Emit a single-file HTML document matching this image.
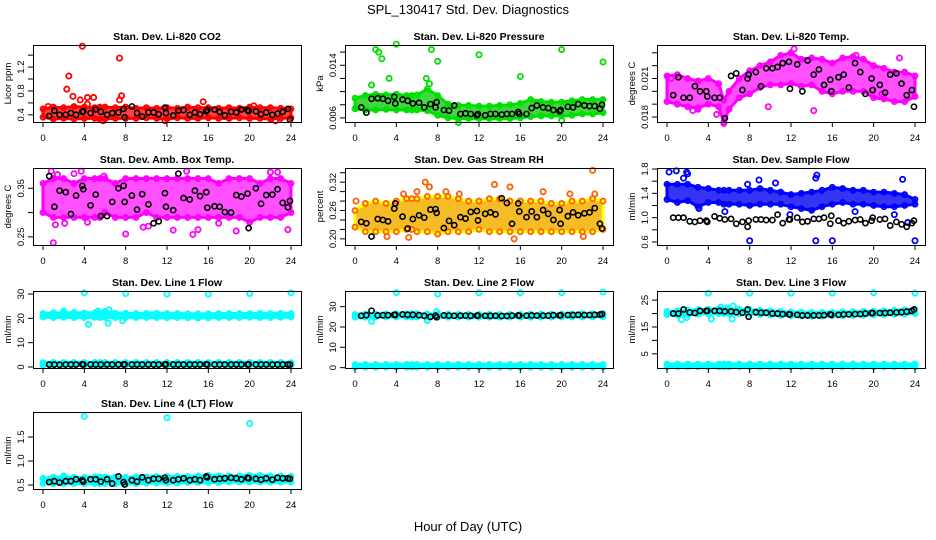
<!DOCTYPE html>
<html><head><meta charset="utf-8"><title>SPL_130417 Std. Dev. Diagnostics</title>
<style>
html,body{margin:0;padding:0;background:#fff;}
svg{display:block;font-family:"Liberation Sans",Arial,sans-serif;}
</style></head>
<body>
<svg id="chart" width="936" height="540" viewBox="0 0 936 540" xmlns="http://www.w3.org/2000/svg">
<text x="468" y="14" font-size="13" text-anchor="middle">SPL_130417  Std. Dev. Diagnostics</text>
<text x="468" y="531" font-size="13" text-anchor="middle">Hour of Day (UTC)</text>
</svg>
<script>
// ---------- shared data ----------
const xTicks = [0,4,8,12,16,20,24];
const bandHours = [0,1,2,3,4,5,5.5,6,7,8,9,10,11,12,13,14,15,16,17,18,19,20,21,22,23,24];
const blackHours = [0.6,1.1,1.6,2.2,2.7,3.2,3.8,3.9,4.6,5.1,5.6,6.2,6.7,7.3,7.8,7.9,8.6,9.1,9.6,10.2,10.7,11.2,11.8,11.9,12.6,13.1,13.6,14.2,14.7,15.2,15.8,15.9,16.6,17.1,17.6,18.2,18.7,19.2,19.8,19.9,20.6,21.1,21.6,22.2,22.7,23.2,23.7,23.9];

// Panel 1: CO2
const co2Lo = [0.36,0.33,0.34,0.33,0.34,0.34,0.33,0.33,0.34,0.34,0.34,0.35,0.34,0.33,0.35,0.34,0.34,0.35,0.34,0.34,0.35,0.34,0.34,0.33,0.34,0.35];
const co2Hi = [0.50,0.53,0.52,0.54,0.53,0.52,0.53,0.53,0.52,0.53,0.51,0.52,0.51,0.52,0.51,0.53,0.52,0.52,0.51,0.52,0.51,0.53,0.52,0.52,0.51,0.50];
const co2OutX = [0.5,2.3,2.5,2.9,3.6,3.8,4.3,4.3,4.9,7.4,7.4,7.6,15.5,5.8,11.8,22.5,20.4];
const co2OutY = [0.54,0.83,1.05,0.71,0.65,1.55,0.69,0.58,0.69,1.35,0.65,0.72,0.62,0.30,0.30,0.30,0.55];
const co2Black = [0.38,0.47,0.40,0.40,0.43,0.40,0.45,0.46,0.43,0.49,0.45,0.40,0.43,0.44,0.50,0.36,0.54,0.43,0.37,0.44,0.44,0.41,0.52,0.43,0.39,0.47,0.48,0.40,0.44,0.41,0.46,0.48,0.49,0.45,0.39,0.45,0.44,0.49,0.48,0.46,0.46,0.41,0.44,0.40,0.42,0.45,0.50,0.32];

// Panel 2: Pressure
const presLo = [0.0074,0.0072,0.0072,0.0073,0.0072,0.0072,0.0072,0.0072,0.0071,0.0064,0.0060,0.0059,0.0059,0.0059,0.0059,0.0059,0.0059,0.0060,0.0062,0.0063,0.0063,0.0063,0.0064,0.0066,0.0066,0.0068];
const presHi = [0.0090,0.0094,0.0096,0.0095,0.0096,0.0094,0.0094,0.0095,0.0104,0.0094,0.0081,0.0079,0.0079,0.0078,0.0078,0.0079,0.0080,0.0082,0.0088,0.0085,0.0084,0.0084,0.0086,0.0088,0.0088,0.0088];
const presOutX = [2,2.3,2.6,4,7.4,8,12,16,20,24,3.3,6.9,10,20,1.6,7.2];
const presOutY = [0.0164,0.0160,0.0150,0.0172,0.0164,0.0146,0.0156,0.0123,0.0164,0.0145,0.0120,0.0120,0.0053,0.0056,0.0110,0.0112];
const presBlack = [0.0076,0.0068,0.0089,0.0090,0.0089,0.0086,0.0092,0.0082,0.0088,0.0086,0.0082,0.0083,0.0076,0.0081,0.0076,0.0084,0.0072,0.0071,0.0079,0.0066,0.0067,0.0066,0.0064,0.0066,0.0064,0.0066,0.0066,0.0065,0.0066,0.0066,0.0069,0.0066,0.0066,0.0075,0.0079,0.0076,0.0075,0.0072,0.0070,0.0072,0.0077,0.0076,0.0081,0.0079,0.0078,0.0078,0.0074,0.0080];

// Panel 3: Li-820 Temp
const tempLo = [0.0192,0.0190,0.0188,0.0187,0.0190,0.0188,0.0176,0.0186,0.0195,0.0198,0.0203,0.0205,0.0205,0.0206,0.0204,0.0205,0.0200,0.0198,0.0200,0.0200,0.0200,0.0195,0.0194,0.0192,0.0192,0.0196];
const tempHi = [0.0212,0.0213,0.0210,0.0208,0.0210,0.0206,0.0193,0.0200,0.0210,0.0216,0.0220,0.0223,0.0228,0.0230,0.0225,0.0226,0.0225,0.0222,0.0226,0.0227,0.0225,0.0220,0.0218,0.0215,0.0215,0.0212];
const tempOutX = [12.3,13.6,3.0,4.8,9.8,14.2,20.8,5.5,0.4,2.5,22.5,18.3];
const tempOutY = [0.0233,0.0224,0.0186,0.0182,0.0188,0.0185,0.0198,0.0175,0.0210,0.0185,0.0226,0.0228];
const tempBlack = [0.0197,0.0211,0.0195,0.0195,0.0204,0.0200,0.0200,0.0196,0.0195,0.0195,0.0179,0.0212,0.0214,0.0201,0.0210,0.0213,0.0215,0.0204,0.0218,0.0218,0.0219,0.0222,0.0223,0.0202,0.0221,0.0200,0.0224,0.0213,0.0217,0.0205,0.0209,0.0200,0.0211,0.0213,0.0203,0.0222,0.0215,0.0198,0.0210,0.0201,0.0205,0.0199,0.0213,0.0214,0.0206,0.0197,0.0201,0.0188];

// Panel 4: Amb. Box Temp
const ambLo = [0.30,0.29,0.29,0.29,0.29,0.29,0.29,0.30,0.29,0.29,0.29,0.30,0.29,0.29,0.29,0.29,0.29,0.29,0.29,0.29,0.29,0.28,0.29,0.29,0.29,0.30];
const ambHi = [0.36,0.37,0.37,0.36,0.37,0.37,0.37,0.37,0.36,0.37,0.37,0.37,0.37,0.37,0.37,0.37,0.37,0.37,0.36,0.37,0.37,0.37,0.36,0.37,0.37,0.36];
const ambOutX = [0.8,1.4,1.2,2.1,3.0,3.7,4.3,8.0,9.7,12.6,14.5,15.0,1.0,18.7,22.0,22.7,23.7,5.9,10.2,13.9,17.0];
const ambOutY = [0.385,0.378,0.275,0.278,0.380,0.385,0.280,0.256,0.270,0.264,0.255,0.265,0.238,0.262,0.383,0.383,0.265,0.375,0.272,0.385,0.278];
const ambBlack = [0.375,0.312,0.345,0.342,0.297,0.335,0.355,0.348,0.315,0.337,0.293,0.293,0.322,0.350,0.355,0.322,0.335,0.306,0.338,0.317,0.278,0.282,0.340,0.312,0.305,0.380,0.330,0.327,0.345,0.334,0.342,0.310,0.313,0.312,0.301,0.300,0.336,0.333,0.339,0.268,0.350,0.318,0.336,0.337,0.348,0.320,0.311,0.324];

// Panel 5: Gas Stream RH
const rhLo = [0.225,0.215,0.215,0.215,0.215,0.22,0.22,0.215,0.215,0.21,0.215,0.215,0.215,0.22,0.215,0.215,0.215,0.215,0.215,0.215,0.215,0.215,0.215,0.215,0.215,0.22];
const rhHi = [0.26,0.275,0.28,0.275,0.28,0.285,0.285,0.285,0.29,0.29,0.29,0.285,0.28,0.28,0.285,0.285,0.28,0.28,0.28,0.28,0.275,0.275,0.28,0.28,0.285,0.28];
const rhOutX = [0.1,4.7,6.0,6.8,7.2,13.5,15.0,18.2,20.8,23.0,23.2,15.4,3.1,5.2,22.1,8.8,10.1];
const rhOutY = [0.28,0.295,0.30,0.32,0.31,0.315,0.31,0.30,0.295,0.345,0.295,0.20,0.205,0.203,0.205,0.30,0.295];
const rhBlack = [0.236,0.233,0.205,0.242,0.240,0.237,0.264,0.275,0.247,0.222,0.242,0.250,0.245,0.262,0.263,0.255,0.223,0.238,0.229,0.246,0.243,0.257,0.259,0.239,0.253,0.256,0.252,0.286,0.276,0.232,0.275,0.258,0.246,0.258,0.246,0.261,0.253,0.240,0.261,0.232,0.248,0.256,0.250,0.254,0.256,0.265,0.232,0.222];

// Panel 6: Sample Flow
const sfLo = [1.30,1.25,1.28,1.18,1.25,1.25,1.22,1.22,1.22,1.20,1.22,1.22,1.22,1.18,1.15,1.12,1.18,1.22,1.25,1.22,1.22,1.20,1.18,1.18,1.20,1.22];
const sfHi = [1.55,1.55,1.55,1.50,1.48,1.45,1.45,1.45,1.45,1.45,1.48,1.45,1.42,1.38,1.40,1.42,1.45,1.50,1.48,1.45,1.45,1.42,1.42,1.40,1.38,1.30];
const sfOutX = [0.2,0.9,1.9,2.0,1.6,8.0,14.4,16.0,24.0,14.4,14.5,8.9,22.8,3.1,5.6,11.9,18.2,22.0,23.3,10.5,7.8];
const sfOutY = [1.75,1.77,1.75,1.72,1.65,0.62,0.62,0.62,0.62,1.65,1.70,1.62,1.63,1.15,1.10,1.05,1.10,1.05,0.92,1.57,1.55];
const sfBlack = [1.00,1.00,1.00,0.94,0.93,0.95,0.95,0.93,1.02,0.99,0.97,0.98,0.90,0.93,0.85,0.95,0.97,0.97,0.96,0.96,1.05,0.91,0.97,0.97,1.00,0.93,0.94,0.98,0.98,1.00,0.90,1.03,0.95,0.91,0.94,0.96,0.97,0.91,0.95,1.00,0.97,0.98,0.87,0.93,0.89,0.85,0.91,0.95];

// Panel 7: Line 1 Flow
const l1Lo = [20.5,20.3,20.4,20.3,20.3,20.4,20.3,20.4,20.3,20.4,20.3,20.3,20.3,20.2,20.3,20.2,20.1,20.2,20.3,20.3,20.3,20.4,20.3,20.3,20.4,20.5];
const l1Hi = [22.0,22.3,22.2,22.4,22.2,22.3,22.4,22.5,22.2,22.1,22.0,22.1,22.1,22.0,22.0,21.9,21.9,21.9,22.0,22.0,22.0,22.0,22.1,22.0,22.1,22.0];
const l1Lo2 = [0.7,0.6,0.6,0.6,0.6,0.6,0.6,0.6,0.6,0.6,0.6,0.6,0.6,0.6,0.6,0.6,0.6,0.6,0.6,0.6,0.6,0.6,0.6,0.6,0.6,0.7];
const l1Hi2 = [1.8,1.9,1.9,1.9,1.9,1.9,1.9,1.9,1.9,1.9,1.9,1.9,1.9,1.9,1.9,1.9,1.9,1.9,1.9,1.9,1.9,1.9,1.9,1.9,1.9,1.8];
const l1OutX = [4,8,12,16,20,24,2,4.4,5.3,6,6.4,6.3,7.7];
const l1OutY = [30.5,30.2,30.0,30.0,30.2,30.5,23.0,17.5,23.0,22.8,23.5,18.0,19.0];
const l1Black = [1.0,1.0,0.9,1.0,1.0,1.0,1.1,1.0,1.0,1.0,1.0,1.0,1.0,1.0,1.0,1.1,1.0,1.0,1.0,1.0,1.0,1.0,1.0,1.1,1.0,1.0,1.0,1.0,1.0,1.0,1.1,1.0,1.0,1.0,1.0,1.0,1.0,1.0,1.0,1.1,1.0,1.0,1.0,1.0,1.0,1.0,1.0,1.0];

// Panel 8: Line 2 Flow
const l2Lo = [24.8,24.8,24.9,24.9,24.9,24.9,24.9,24.9,24.9,24.8,24.8,24.8,24.8,24.8,24.8,24.8,24.8,24.8,24.8,24.8,24.8,24.9,24.9,24.9,25.0,25.0];
const l2Hi = [26.2,26.3,26.4,26.4,26.5,26.5,26.5,26.5,26.4,26.3,26.3,26.2,26.2,26.2,26.2,26.2,26.2,26.2,26.3,26.3,26.3,26.4,26.4,26.5,26.5,26.6];
const l2Lo2 = [0.3,0.3,0.3,0.3,0.3,0.3,0.3,0.3,0.3,0.3,0.3,0.3,0.3,0.3,0.3,0.3,0.3,0.3,0.3,0.3,0.3,0.3,0.3,0.3,0.3,0.3];
const l2Hi2 = [1.6,1.6,1.6,1.6,1.6,1.6,1.6,1.6,1.6,1.6,1.6,1.6,1.6,1.6,1.6,1.6,1.6,1.6,1.6,1.6,1.6,1.6,1.6,1.6,1.6,1.6];
const l2OutX = [4,8,12,16,20,24,1.6,7.0,7.9];
const l2OutY = [36.9,36.2,36.9,36.9,36.9,37.2,22.8,23.2,27.5];
const l2Black = [25.5,25.8,28.0,25.7,25.8,25.8,26.0,26.0,26.2,26.0,26.0,25.8,25.5,25.0,25.6,24.8,25.7,25.6,25.5,25.6,25.6,25.5,25.6,25.6,25.5,25.5,25.5,25.4,25.4,25.6,25.7,25.6,25.6,25.7,25.6,25.6,25.6,25.8,25.7,25.8,25.9,25.9,26.0,25.9,25.9,26.0,26.1,26.3];

// Panel 9: Line 3 Flow
const l3Lo = [19.6,19.5,19.6,19.8,19.9,20.0,20.0,20.0,20.0,19.8,19.6,19.5,19.3,19.2,19.1,19.0,19.0,19.1,19.2,19.3,19.4,19.5,19.6,19.7,19.8,20.0];
const l3Hi = [20.8,21.0,21.3,21.4,21.6,21.7,21.7,21.7,21.6,21.4,21.2,21.0,20.8,20.6,20.5,20.4,20.4,20.5,20.6,20.7,20.8,20.9,21.0,21.2,21.4,21.6];
const l3Lo2 = [0.2,0.2,0.2,0.2,0.2,0.2,0.2,0.2,0.2,0.2,0.2,0.2,0.2,0.2,0.2,0.2,0.2,0.2,0.2,0.2,0.2,0.2,0.2,0.2,0.2,0.2];
const l3Hi2 = [1.2,1.2,1.2,1.2,1.2,1.2,1.2,1.2,1.2,1.2,1.2,1.2,1.2,1.2,1.2,1.2,1.2,1.2,1.2,1.2,1.2,1.2,1.2,1.2,1.2,1.2];
const l3OutX = [4,8,12,16,20,24,1.4,1.9,4.3,5.2,5.9,6.4,6.3];
const l3OutY = [27.6,27.6,27.6,27.6,27.8,27.6,17.7,18.5,18.0,22.4,22.1,22.8,18.0];
const l3Black = [20.0,20.0,21.5,20.4,20.2,21.0,21.0,21.0,21.0,21.0,20.8,20.8,20.5,20.3,21.5,18.8,20.5,20.3,20.3,20.0,20.0,19.8,19.7,19.7,19.5,19.3,19.3,19.3,19.3,19.4,19.7,19.5,19.5,19.7,19.7,19.8,19.8,20.0,20.2,20.2,20.2,20.2,20.3,20.4,20.5,20.7,21.0,21.5];

// Panel 10: Line 4 (LT) Flow
const l4Lo = [0.53,0.53,0.53,0.53,0.53,0.53,0.53,0.53,0.53,0.52,0.53,0.54,0.54,0.54,0.54,0.55,0.55,0.55,0.55,0.56,0.56,0.56,0.56,0.56,0.56,0.56];
const l4Hi = [0.64,0.66,0.67,0.66,0.66,0.67,0.67,0.67,0.67,0.66,0.67,0.67,0.68,0.68,0.68,0.68,0.69,0.70,0.69,0.69,0.69,0.70,0.70,0.69,0.69,0.68];
const l4OutX = [4,12,20,2.0];
const l4OutY = [1.93,1.90,1.78,0.69];
const l4Black = [0.56,0.58,0.55,0.58,0.58,0.62,0.60,0.57,0.62,0.62,0.57,0.62,0.53,0.68,0.56,0.51,0.60,0.57,0.66,0.60,0.63,0.63,0.65,0.60,0.60,0.62,0.64,0.60,0.62,0.60,0.68,0.66,0.62,0.63,0.64,0.65,0.64,0.62,0.65,0.64,0.63,0.61,0.64,0.61,0.65,0.64,0.64,0.63];

// y tick arrays
const co2Ticks = [0.4,0.6,0.8,1.0,1.2,1.4], co2Labels = ["0.4","","0.8","","1.2",""];
const presTicks = [0.006,0.008,0.010,0.012,0.014,0.016], presLabels = ["0.006","","","","0.014",""];
const tempTicks = [0.018,0.019,0.020,0.021,0.022,0.023], tempLabels = ["0.018","","","0.021","",""];
const ambTicks = [0.25,0.30,0.35], ambLabels = ["0.25","","0.35"];
const rhTicks = [0.20,0.22,0.24,0.26,0.28,0.30,0.32,0.34], rhLabels = ["0.20","","","0.26","","","0.32",""];
const sfTicks = [0.6,0.8,1.0,1.2,1.4,1.6,1.8], sfLabels = ["0.6","","1.0","","1.4","","1.8"];
const l1Ticks = [0,10,20,30], l1Labels = ["0","10","20","30"];
const l2Ticks = [0,10,20,30], l2Labels = ["0","10","20","30"];
const l3Ticks = [5,10,15,20,25], l3Labels = ["5","","15","","25"];
const l4Ticks = [0.5,1.0,1.5], l4Labels = ["0.5","1.0","1.5"];

// ---------- rendering ----------
const NS = "http://www.w3.org/2000/svg";
const svg = document.getElementById('chart');
function mk(tag, attrs, parent){
  const e = document.createElementNS(NS, tag);
  for (const k in attrs) e.setAttribute(k, attrs[k]);
  (parent||svg).appendChild(e);
  return e;
}
const rowTop = [45,168,291,412];
const BOX_H = 77;
const panels = [
 {name:'co2', title:'Stan. Dev. Li-820 CO2', ylab:'Licor ppm', row:0,col:0, ymin:0.28, ymax:1.57, ticks:co2Ticks, labels:co2Labels, color:'#ff0000', fill:'#ff2020', lo:co2Lo, hi:co2Hi, ox:co2OutX, oy:co2OutY, black:co2Black},
 {name:'pressure', title:'Stan. Dev. Li-820 Pressure', ylab:'kPa', row:0,col:1, ymin:0.00538, ymax:0.01708, ticks:presTicks, labels:presLabels, color:'#00e000', fill:'#20d020', lo:presLo, hi:presHi, ox:presOutX, oy:presOutY, black:presBlack},
 {name:'li820-temp', title:'Stan. Dev. Li-820 Temp.', ylab:'degrees C', row:0,col:2, ymin:0.01761, ymax:0.02361, ticks:tempTicks, labels:tempLabels, color:'#ff00ff', fill:'#ff30ff', lo:tempLo, hi:tempHi, ox:tempOutX, oy:tempOutY, black:tempBlack},
 {name:'amb-box-temp', title:'Stan. Dev. Amb. Box Temp.', ylab:'degrees C', row:1,col:0, ymin:0.2333, ymax:0.3917, ticks:ambTicks, labels:ambLabels, color:'#ff00ff', fill:'#ff30ff', lo:ambLo, hi:ambHi, ox:ambOutX, oy:ambOutY, black:ambBlack},
 {name:'gas-stream-rh', title:'Stan. Dev. Gas Stream RH', ylab:'percent', row:1,col:1, ymin:0.187, ymax:0.350, ticks:rhTicks, labels:rhLabels, color:'#ff6000', fill:'#f5b000', lo:rhLo, hi:rhHi, ox:rhOutX, oy:rhOutY, black:rhBlack, alt:'#ffff00'},
 {name:'sample-flow', title:'Stan. Dev. Sample Flow', ylab:'ml/min', row:1,col:2, ymin:0.55, ymax:1.817, ticks:sfTicks, labels:sfLabels, color:'#0000ff', fill:'#1010f0', lo:sfLo, hi:sfHi, ox:sfOutX, oy:sfOutY, black:sfBlack},
 {name:'line1-flow', title:'Stan. Dev. Line 1 Flow', ylab:'ml/min', row:2,col:0, ymin:-0.42, ymax:31.25, ticks:l1Ticks, labels:l1Labels, color:'#00ffff', fill:'#00f0f0', lo:l1Lo, hi:l1Hi, lo2:l1Lo2, hi2:l1Hi2, ox:l1OutX, oy:l1OutY, black:l1Black},
 {name:'line2-flow', title:'Stan. Dev. Line 2 Flow', ylab:'ml/min', row:2,col:1, ymin:-0.17, ymax:37.7, ticks:l2Ticks, labels:l2Labels, color:'#00ffff', fill:'#00f0f0', lo:l2Lo, hi:l2Hi, lo2:l2Lo2, hi2:l2Hi2, ox:l2OutX, oy:l2OutY, black:l2Black},
 {name:'line3-flow', title:'Stan. Dev. Line 3 Flow', ylab:'ml/min', row:2,col:2, ymin:-0.28, ymax:28.4, ticks:l3Ticks, labels:l3Labels, color:'#00ffff', fill:'#00f0f0', lo:l3Lo, hi:l3Hi, lo2:l3Lo2, hi2:l3Hi2, ox:l3OutX, oy:l3OutY, black:l3Black},
 {name:'line4-flow', title:'Stan. Dev. Line 4 (LT) Flow', ylab:'ml/min', row:3,col:0, ymin:0.417, ymax:2.02, ticks:l4Ticks, labels:l4Labels, color:'#00ffff', fill:'#00f0f0', lo:l4Lo, hi:l4Hi, ox:l4OutX, oy:l4OutY, black:l4Black}
];

panels.forEach(p => {
  const x0 = 43 + 312*p.col;      // pixel of hour 0
  const pxPerHour = 248/24;
  const boxL = x0 - 10, boxR = x0 + 248 + 10;
  const top = rowTop[p.row], bot = top + BOX_H;
  const sx = h => x0 + h*pxPerHour;
  const sy = v => bot - (v - p.ymin)/(p.ymax - p.ymin)*BOX_H;

  const g = mk('g', {});
  
  

  const clipId = 'clip-' + p.name;
  const cp = mk('clipPath', {id: clipId}, g);
  mk('rect', {x: boxL, y: top-6, width: boxR-boxL, height: BOX_H+12}, cp);
  const marks = mk('g', {'clip-path': 'url(#' + clipId + ')'}, g);

  function band(lo, hi, suffix){
    let pts = [];
    bandHours.forEach((h,i) => pts.push(sx(h).toFixed(1) + ',' + sy(hi[i]).toFixed(1)));
    for (let i = bandHours.length-1; i >= 0; i--) pts.push(sx(bandHours[i]).toFixed(1) + ',' + sy(lo[i]).toFixed(1));
    const poly = mk('polygon', {points: pts.join(' '), fill: p.fill, 'fill-opacity': 0.85, stroke: p.alt || p.color, 'stroke-width': 3, 'stroke-linejoin': 'round'}, marks);
    
    
    bandHours.forEach((h,i) => {
      [lo[i], hi[i]].forEach(v => {
        const c = mk('circle', {cx: sx(h), cy: sy(v), r: 2.5, fill: 'none', stroke: p.color, 'stroke-width': 1.8}, marks);
        
        
      });
    });
  }
  band(p.lo, p.hi, '');
  if (p.lo2) band(p.lo2, p.hi2, '-low');

  p.ox.forEach((h,i) => {
    const c = mk('circle', {cx: sx(h), cy: sy(p.oy[i]), r: 2.6, fill: 'none', stroke: p.color, 'stroke-width': 1.8}, marks);
    
    
  });
  blackHours.forEach((h,i) => {
    const c = mk('circle', {cx: sx(h), cy: sy(p.black[i]), r: 2.6, fill: 'none', stroke: '#000', 'stroke-width': 1.6}, marks);
    
    
  });

  const box = mk('rect', {x: boxL+0.5, y: top+0.5, width: boxR-boxL, height: BOX_H, fill: 'none', stroke: '#000', 'stroke-width': 1}, g);
  
  

  const t = mk('text', {x: (boxL+boxR)/2, y: top-5, 'font-size': 10.5, 'font-weight': 'bold', 'text-anchor': 'middle'}, g);
  t.textContent = p.title;
  
  

  xTicks.forEach(h => {
    mk('line', {x1: sx(h), x2: sx(h), y1: bot+0.5, y2: bot+5, stroke: '#000'}, g);
    const lt = mk('text', {x: sx(h), y: bot+19, 'font-size': 9.5, 'text-anchor': 'middle'}, g);
    lt.textContent = h;
    
    
  });
  p.ticks.forEach((v,i) => {
    const y = sy(v);
    mk('line', {x1: boxL-5, x2: boxL+0.5, y1: y, y2: y, stroke: '#000'}, g);
    if (p.labels[i]) {
      const lt = mk('text', {x: boxL-9, y: y, 'font-size': 9.5, 'text-anchor': 'middle', transform: 'rotate(-90 ' + (boxL-9) + ' ' + y + ')'}, g);
      lt.textContent = p.labels[i];
      
      
    }
  });
  const yl = mk('text', {x: boxL-22, y: (top+bot)/2, 'font-size': 9.5, 'text-anchor': 'middle', transform: 'rotate(-90 ' + (boxL-22) + ' ' + ((top+bot)/2) + ')'}, g);
  yl.textContent = p.ylab;
  
  
});
</script>
</body></html>
